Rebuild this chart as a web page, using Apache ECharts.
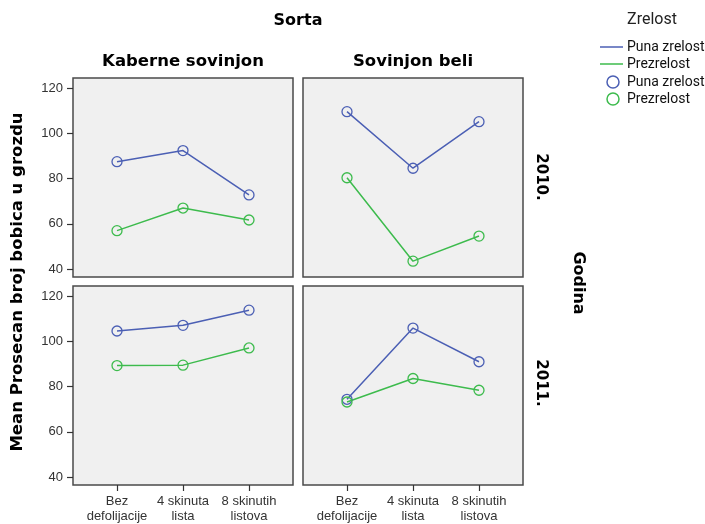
<!DOCTYPE html>
<html>
<head>
<meta charset="utf-8">
<script src="https://cdn.jsdelivr.net/npm/echarts@6/dist/echarts.min.js"></script>
<style>html,body{margin:0;padding:0;background:#fff}#c{width:705px;height:524px}</style>
</head>
<body>
<div id="c"></div>
<script>
// ---- data ----
const categories = ['Bez\ndefolijacije', '4 skinuta\nlista', '8 skinutih\nlistova'];
const varieties = ['Kaberne sovinjon', 'Sovinjon beli'];
const years = ['2010.', '2011.'];
const maturity = ['Puna zrelost', 'Prezrelost'];
const yTicks = [40, 60, 80, 100, 120];
// values per panel [year][variety]
const puna2010Kaberne = [87.5, 92.4, 72.8];
const prez2010Kaberne = [57.0, 67.0, 61.7];
const puna2010Sovinjon = [109.6, 84.6, 105.2];
const prez2010Sovinjon = [80.4, 43.5, 54.6];
const puna2011Kaberne = [104.6, 107.1, 113.8];
const prez2011Kaberne = [89.3, 89.5, 97.1];
const puna2011Sovinjon = [74.4, 105.9, 91.0];
const prez2011Sovinjon = [73.2, 83.6, 78.4];

const panels = [
  {puna: puna2010Kaberne, prez: prez2010Kaberne},
  {puna: puna2010Sovinjon, prez: prez2010Sovinjon},
  {puna: puna2011Kaberne, prez: prez2011Kaberne},
  {puna: puna2011Sovinjon, prez: prez2011Sovinjon}
];

const BLUE = '#4b5fb4';
const GREEN = '#3dbb4d';
const gridPos = [
  {left: 73, top: 78, width: 220, height: 199},
  {left: 303, top: 78, width: 220, height: 199},
  {left: 73, top: 286, width: 220, height: 200},
  {left: 303, top: 286, width: 220, height: 200}
];
const catIdx = categories.map((c, i) => i);

const grid = gridPos.map(g => Object.assign({
  show: true, backgroundColor: '#f0f0f0', borderColor: '#4a4a4a', borderWidth: 1.5
}, g));

const xAxis = gridPos.map((g, i) => {
  const bottom = i >= 2;
  return {
    type: 'value', gridIndex: i, min: -2/3, max: 8/3,
    axisLine: {show: false, onZero: false},
    splitLine: {show: false},
    axisTick: {show: bottom, customValues: catIdx, length: 6, lineStyle: {color: '#333', width: 1.2}},
    axisLabel: {show: bottom, customValues: catIdx, formatter: v => categories[Math.round(v)],
      color: '#333', fontFamily: 'Liberation Sans, Arial', fontSize: 13, lineHeight: 15, margin: 9}
  };
});

const yAxis = gridPos.map((g, i) => {
  const left = i % 2 === 0;
  return {
    type: 'value', gridIndex: i, min: 36.5, max: 124.5,
    axisLine: {show: false, onZero: false},
    splitLine: {show: false},
    axisTick: {show: left, customValues: yTicks, length: 6, lineStyle: {color: '#333', width: 1.2}},
    axisLabel: {show: left, customValues: yTicks, color: '#333',
      fontFamily: 'Liberation Sans, Arial', fontSize: 13, margin: 10}
  };
});

const series = [];
panels.forEach((p, i) => {
  [[p.puna, BLUE, maturity[0]], [p.prez, GREEN, maturity[1]]].forEach(([vals, col, name]) => {
    series.push({
      type: 'line', name: name, xAxisIndex: i, yAxisIndex: i,
      data: vals.map((v, k) => [catIdx[k], v]),
      symbol: 'circle', symbolSize: 10,
      lineStyle: {color: col, width: 1.5},
      itemStyle: {color: 'rgba(0,0,0,0)', borderColor: col, borderWidth: 1.3},
      emphasis: {disabled: true},
      animation: false
    });
  });
});

const boldFont = 'DejaVu Sans';
const texts = [
  {t: 'Sorta', x: 298, y: 21, size: 16, rot: 0},
  {t: varieties[0], x: 183, y: 62, size: 16.5, rot: 0},
  {t: varieties[1], x: 413, y: 62, size: 16.5, rot: 0},
  {t: years[0], x: 541, y: 177, size: 15, rot: -Math.PI/2},
  {t: years[1], x: 541, y: 383, size: 15, rot: -Math.PI/2},
  {t: 'Godina', x: 578, y: 283, size: 16, rot: -Math.PI/2},
  {t: 'Mean Prosecan broj bobica u grozdu', x: 18, y: 282, size: 16.5, rot: Math.PI/2}
];
const gfx = texts.map(o => ({
  type: 'text', x: o.x, y: o.y, rotation: o.rot,
  style: {text: o.t, align: 'center', verticalAlign: 'middle',
    font: 'bold ' + o.size + 'px ' + boldFont, fill: '#000'}
}));
// legend
const legFont = '14px Roboto, Arial';
gfx.push({type: 'text', x: 652, y: 20, style: {text: 'Zrelost', align: 'center', verticalAlign: 'middle', font: '16px Roboto, Arial', fill: '#222'}});
const legRows = [
  {kind: 'line', col: BLUE, name: maturity[0], y: 47},
  {kind: 'line', col: GREEN, name: maturity[1], y: 64},
  {kind: 'circle', col: BLUE, name: maturity[0], y: 82},
  {kind: 'circle', col: GREEN, name: maturity[1], y: 99}
];
legRows.forEach(r => {
  if (r.kind === 'line') {
    gfx.push({type: 'line', shape: {x1: 600, y1: r.y, x2: 623, y2: r.y}, style: {stroke: r.col, lineWidth: 1.5}});
  } else {
    gfx.push({type: 'circle', shape: {cx: 613, cy: r.y, r: 6}, style: {stroke: r.col, fill: 'none', lineWidth: 1.5}});
  }
  gfx.push({type: 'text', x: 627, y: r.y, style: {text: r.name, align: 'left', verticalAlign: 'middle', font: legFont, fill: '#111'}});
});

const chart = echarts.init(document.getElementById('c'), null, {renderer: 'canvas'});
chart.setOption({
  animation: false,
  backgroundColor: '#fff',
  grid: grid, xAxis: xAxis, yAxis: yAxis, series: series,
  graphic: gfx
});
</script>
</body>
</html>
